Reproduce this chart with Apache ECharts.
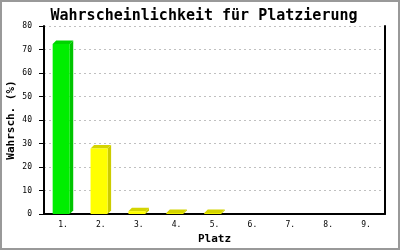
<!DOCTYPE html>
<html><head><meta charset="utf-8">
<script src="https://cdn.jsdelivr.net/npm/echarts@6/dist/echarts.min.js"></script>
<style>html,body{margin:0;padding:0;background:#fff}#c{width:400px;height:250px}</style>
</head><body><div id="c"></div>
<script>
const titleText = 'Wahrscheinlichkeit für Platzierung';
const categories = ['1.', '2.', '3.', '4.', '5.', '6.', '7.', '8.', '9.'];
const values = [72.3, 27.9, 1.2, 0.4, 0.4, 0, 0, 0, 0];
const yTicks = { min: 0, max: 80, interval: 10 };
const xName = 'Platz';
const yName = 'Wahrsch. (%)';

const palette = {
  first: { front: '#00ee00', top: '#00d400', side: '#00c400' },
  other: { front: '#ffff00', top: '#d4d400', side: '#cccc00' }
};

const chart = echarts.init(document.getElementById('c'), null, { renderer: 'canvas' });
const mono = 'DejaVu Sans Mono';

chart.setOption({
  animation: false,
  title: {
    text: titleText, left: 199, top: 4, textAlign: 'center',
    textStyle: { fontFamily: mono, fontWeight: 'bold', fontSize: 15, color: '#000' }
  },
  graphic: [{
    type: 'rect', shape: { x: 1, y: 1, width: 398, height: 248 },
    style: { fill: 'none', stroke: '#999', lineWidth: 2 }, z: 100
  }],
  grid: { left: 44, right: 15, top: 26, bottom: 36, containLabel: false, outerBoundsMode: 'none' },
  xAxis: {
    type: 'category', data: categories, boundaryGap: true,
    name: xName, nameLocation: 'middle', nameGap: 20, nameMoveOverlap: false,
    nameTextStyle: { fontFamily: mono, fontWeight: 'bold', fontSize: 11, color: '#000' },
    axisLine: { lineStyle: { color: '#000', width: 2 } },
    axisTick: { show: false },
    axisLabel: { fontFamily: mono, fontSize: 8, color: '#000', margin: 7 },
    splitLine: { show: false }
  },
  yAxis: [{
    type: 'value', min: yTicks.min, max: yTicks.max, interval: yTicks.interval,
    name: yName, nameLocation: 'middle', nameGap: 27, nameRotate: 90, nameMoveOverlap: false,
    nameTextStyle: { fontFamily: mono, fontWeight: 'bold', fontSize: 11, color: '#000' },
    axisLine: { show: true, lineStyle: { color: '#000', width: 2 } },
    axisTick: { show: true, length: 5, lineStyle: { color: '#000' } },
    axisLabel: { fontFamily: mono, fontSize: 8, color: '#000', margin: 12 },
    splitLine: { show: true, lineStyle: { color: '#c0c0c0', type: [2, 3], width: 1 } }
  }, {
    type: 'value', min: yTicks.min, max: yTicks.max, interval: yTicks.interval, position: 'right',
    axisLine: { show: true, lineStyle: { color: '#000', width: 2 } },
    axisTick: { show: false }, axisLabel: { show: false }, splitLine: { show: false }
  }],
  series: [{
    type: 'custom',
    data: values.map((v, i) => [i, v]),
    renderItem: function (params, api) {
      const idx = api.value(0), val = api.value(1);
      if (!val) return null;
      const c = api.coord([idx, val]);
      const b = api.coord([idx, 0]);
      const w = api.size([1, 0])[0] * 0.45;
      const d = 3.5;
      const x0 = c[0] - (w + d) / 2;
      const x1 = x0 + w;
      const col = idx === 0 ? palette.first : palette.other;
      return {
        type: 'group',
        children: [
          { type: 'polygon', shape: { points: [[x1, c[1]], [x1 + d, c[1] - d], [x1 + d, b[1] - d], [x1, b[1]]] }, style: { fill: col.side } },
          { type: 'polygon', shape: { points: [[x0, c[1]], [x0 + d, c[1] - d], [x1 + d, c[1] - d], [x1, c[1]]] }, style: { fill: col.top } },
          { type: 'rect', shape: { x: x0, y: c[1], width: w, height: b[1] - c[1] }, style: { fill: col.front } }
        ]
      };
    }
  }]
});
</script></body></html>
